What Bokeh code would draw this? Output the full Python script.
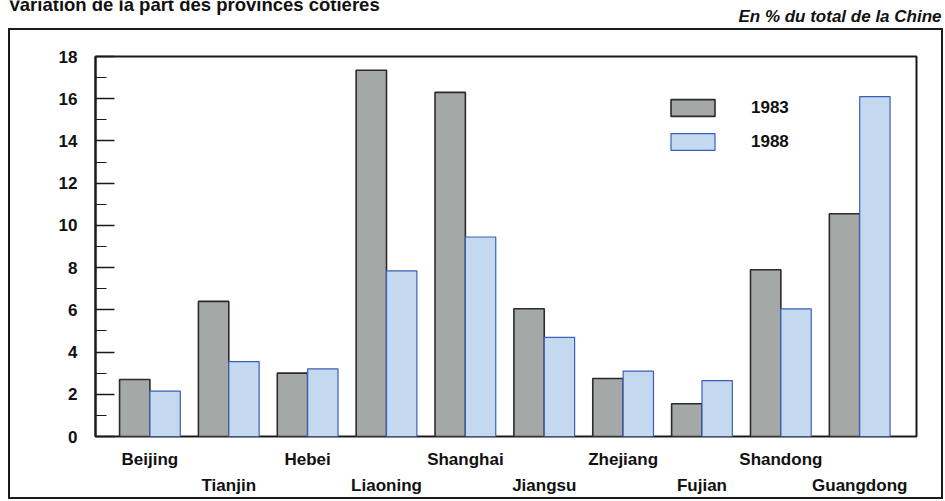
from bokeh.plotting import figure
from bokeh.layouts import column
from bokeh.models import (ColumnDataSource, LinearAxis, FixedTicker,
                          Range1d, Legend, LegendItem, Label)
from bokeh.embed import file_html
from bokeh.resources import INLINE

# Share of China's total, by coastal province (%)
provinces = ["Beijing", "Tianjin", "Hebei", "Liaoning", "Shanghai",
             "Jiangsu", "Zhejiang", "Fujian", "Shandong", "Guangdong"]
share_1983 = [2.7, 6.4, 3.0, 17.35, 16.3, 6.05, 2.75, 1.55, 7.9, 10.55]
share_1988 = [2.15, 3.55, 3.2, 7.85, 9.45, 4.7, 3.1, 2.65, 6.05, 16.1]
y_ticks = list(range(0, 19, 2))

FONT = "Liberation Sans"
INK = "#111111"
W = 945
HEAD_H = 26
MAIN_H = 475
BAR_W = 0.385

# ---- header: title and unit note ----
head = figure(width=W, height=HEAD_H, output_backend="svg", toolbar_location=None,
              x_range=Range1d(0, W), y_range=Range1d(0, HEAD_H),
              x_axis_location=None, y_axis_location=None,
              min_border=0, min_border_left=0, min_border_right=0,
              min_border_top=0, min_border_bottom=0)
head.frame_align = False
head.grid.visible = False
head.outline_line_color = None
head.background_fill_color = "white"
head.border_fill_color = "white"
head.add_layout(Label(x=8, y=22,
                      text="Variation de la part des provinces côtières",
                      text_font=FONT, text_font_style="bold", text_font_size="18.5px",
                      text_color=INK, text_baseline="alphabetic"))
head.add_layout(Label(x=941, y=10.5, text="En % du total de la Chine", text_align="right",
                      text_font=FONT, text_font_style="bold italic", text_font_size="17px",
                      text_color=INK, text_baseline="alphabetic"))

# ---- main chart ----
idx = list(range(len(provinces)))
src = ColumnDataSource(dict(
    x83=[i - BAR_W / 2 for i in idx],
    x88=[i + BAR_W / 2 for i in idx],
    v83=share_1983,
    v88=share_1988,
))

# thin frame drawn around the whole chart area (behind the transparent canvas)
box_css = {
    "background-image": ", ".join(["linear-gradient(#1a1a1a, #1a1a1a)"] * 4),
    "background-size": "935px 2px, 2px 471px, 2px 471px, 935px 2px",
    "background-position": "8px 2px, 8px 2px, 941px 2px, 8px 471px",
    "background-repeat": "no-repeat",
    "background-color": "white",
}

p = figure(width=W, height=MAIN_H, output_backend="svg", toolbar_location=None,
           x_range=Range1d(-0.69, 9.72), y_range=Range1d(0, 18),
           x_axis_location=None, y_axis_location=None,
           min_border_left=95, min_border_right=29,
           min_border_top=30, min_border_bottom=65,
           styles=box_css)
p.frame_align = False
p.grid.visible = False
p.background_fill_color = "white"
p.border_fill_color = None
p.outline_line_color = "#1a1a1a"
p.outline_line_width = 2

r83 = p.vbar(x="x83", top="v83", width=BAR_W, bottom=0, source=src,
             fill_color="#a4a8a6", line_color="#2b2b2b", line_width=1.6)
r88 = p.vbar(x="x88", top="v88", width=BAR_W, bottom=0, source=src,
             fill_color="#c4d9ef", line_color="#3a5fb8", line_width=1.2)

# y axis: ticks pointing into the plot, minor tick every unit
yax = LinearAxis(ticker=FixedTicker(ticks=y_ticks,
                                    minor_ticks=[v + 1 for v in y_ticks[:-1]]))
yax.axis_line_color = "#1a1a1a"
yax.axis_line_width = 2
yax.major_tick_in = 19
yax.major_tick_out = 0
yax.minor_tick_in = 11
yax.minor_tick_out = 0
yax.major_tick_line_width = 1.5
yax.minor_tick_line_width = 1.2
yax.major_tick_line_color = "#1a1a1a"
yax.minor_tick_line_color = "#1a1a1a"
yax.major_label_standoff = 18
yax.major_label_text_font = FONT
yax.major_label_text_font_style = "bold"
yax.major_label_text_font_size = "17px"
yax.major_label_text_color = INK
p.add_layout(yax, "left")


def cat_axis(positions, standoff):
    """Category labels for every other province (labels run on two rows)."""
    ax = LinearAxis(ticker=FixedTicker(ticks=positions, minor_ticks=[]))
    ax.major_label_overrides = {i: provinces[i] for i in positions}
    ax.axis_line_color = None
    ax.major_tick_line_color = None
    ax.major_tick_in = 0
    ax.major_tick_out = 0
    ax.minor_tick_in = 0
    ax.minor_tick_out = 0
    ax.major_label_standoff = standoff
    ax.major_label_text_font = FONT
    ax.major_label_text_font_style = "bold"
    ax.major_label_text_font_size = "17px"
    ax.major_label_text_color = INK
    return ax


p.add_layout(cat_axis(idx[0::2], 13), "below")
p.add_layout(cat_axis(idx[1::2], 4), "below")

legend = Legend(items=[LegendItem(label="1983", renderers=[r83]),
                       LegendItem(label="1988", renderers=[r88])],
                location=(570, 284), orientation="vertical",
                glyph_width=55, glyph_height=21, label_height=21,
                label_standoff=31, spacing=13, padding=0, margin=0,
                border_line_color=None, background_fill_alpha=0,
                label_text_font=FONT, label_text_font_style="bold",
                label_text_font_size="17px", label_text_color=INK)
p.add_layout(legend)

page = column(head, p, spacing=0)
open("out.html", "w").write(file_html(page, INLINE))
